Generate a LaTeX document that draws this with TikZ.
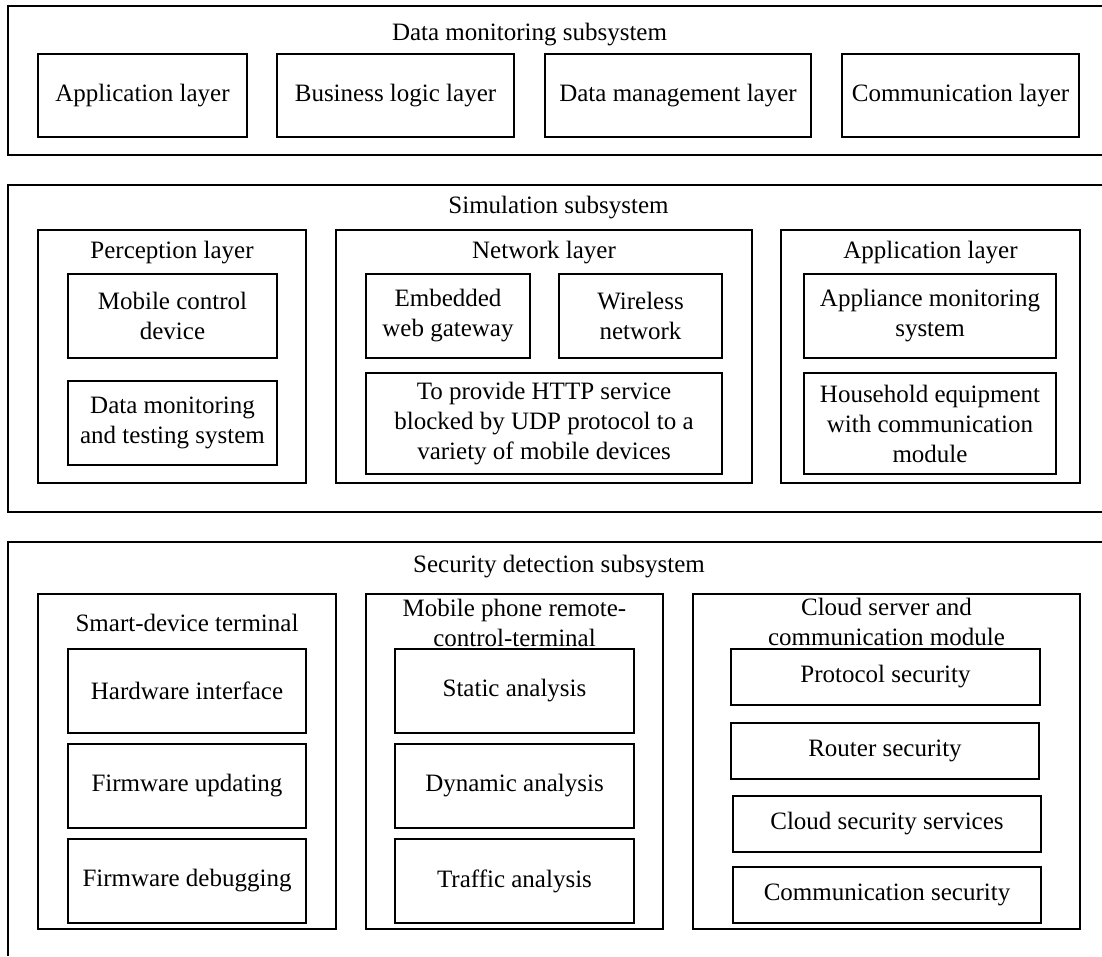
\documentclass[tikz,border=0pt]{standalone}
\usepackage{fontspec}
\setmainfont{Liberation Serif}
\newcommand\fsz{\fontsize{25}{30}\selectfont}
\tikzset{
  bx/.style={draw, line width=1.2pt, inner sep=0pt, align=center, font=\fsz},
  lbl/.style={inner sep=0pt, align=center, font=\fsz},
  frame/.style={draw, line width=1.2pt},
}
\newcommand\bxnode[6]{%
  \pgfmathsetmacro\bxcx{(#2+#4)/2}%
  \pgfmathsetmacro\bxcy{(#3+#5)/2}%
  \pgfmathsetmacro\bxw{#4-#2}%
  \pgfmathsetmacro\bxh{#5-#3}%
  \node[bx, minimum width=\bxw pt, minimum height=\bxh pt] (#1) at (\bxcx,\bxcy) {#6};}
\begin{document}
\begin{tikzpicture}[x=1pt,y=-1pt]
\useasboundingbox (0,0) rectangle (1102,956);
% ---------- Data monitoring subsystem ----------
\draw[frame] (1102,6) -- (8,6) -- (8,155) -- (1102,155);
\node[lbl, anchor=base] (t1) at (529.5,40) {Data monitoring subsystem};
\bxnode{dm1}{38}{54}{247}{137}{Application layer}
\bxnode{dm2}{277}{54}{514}{137}{Business logic layer}
\bxnode{dm3}{545}{54}{811}{137}{Data management layer}
\bxnode{dm4}{842}{54}{1079}{137}{Communication layer}
% ---------- Simulation subsystem ----------
\draw[frame] (1102,185) -- (8,185) -- (8,512) -- (1102,512);
\node[lbl, anchor=base] (t2) at (558.5,213) {Simulation subsystem};
\bxnode{per}{38}{230}{306}{483}{}
\bxnode{net}{336}{230}{752}{483}{}
\bxnode{app}{781}{230}{1080}{483}{}
\node[lbl, anchor=base] (pert) at (172,258) {Perception layer};
\node[lbl, anchor=base] (nett) at (544,258) {Network layer};
\node[lbl, anchor=base] (appt) at (930.5,258) {Application layer};
\bxnode{per1}{68}{274}{277}{358}{Mobile control\\device}
\bxnode{per2}{68}{381}{277}{465}{Data monitoring\\and testing system}
\bxnode{net1}{366}{274}{530}{358}{Embedded\\web gateway}
\bxnode{net2}{559}{274}{722}{358}{Wireless\\network}
\bxnode{net3}{366}{373}{722}{474}{To provide HTTP service\\blocked by UDP protocol to a\\variety of mobile devices}
\bxnode{app1}{804}{274}{1056}{358}{Appliance monitoring\\system}
\bxnode{app2}{804}{373}{1056}{474}{Household equipment\\with communication\\module}
% ---------- Security detection subsystem ----------
\draw[frame] (1102,542) -- (8,542) -- (8,956);
\node[lbl, anchor=base] (t3) at (559,572) {Security detection subsystem};
\bxnode{sm}{38}{594}{336}{929}{}
\bxnode{mob}{366}{594}{663}{929}{}
\bxnode{cl}{693}{594}{1080}{929}{}
\node[lbl, anchor=base] (smt) at (187,631) {Smart-device terminal};
\node[lbl, anchor=base] (mobt) at (514.5,646) {Mobile phone remote-\\control-terminal};
\node[lbl, anchor=base] (clt) at (886.5,645) {Cloud server and\\communication module};
\bxnode{sm1}{68}{649}{306}{733}{Hardware interface}
\bxnode{sm2}{68}{744}{306}{828}{Firmware updating}
\bxnode{sm3}{68}{839}{306}{923}{Firmware debugging}
\bxnode{mob1}{395}{649}{634}{733}{Static analysis}
\bxnode{mob2}{395}{744}{634}{828}{Dynamic analysis}
\bxnode{mob3}{395}{839}{634}{923}{Traffic analysis}
\bxnode{cl1}{731}{649}{1040}{705}{Protocol security}
\bxnode{cl2}{731}{723}{1039}{779}{Router security}
\bxnode{cl3}{733}{796}{1041}{852}{Cloud security services}
\bxnode{cl4}{733}{867}{1041}{923}{Communication security}
\end{tikzpicture}
\end{document}
